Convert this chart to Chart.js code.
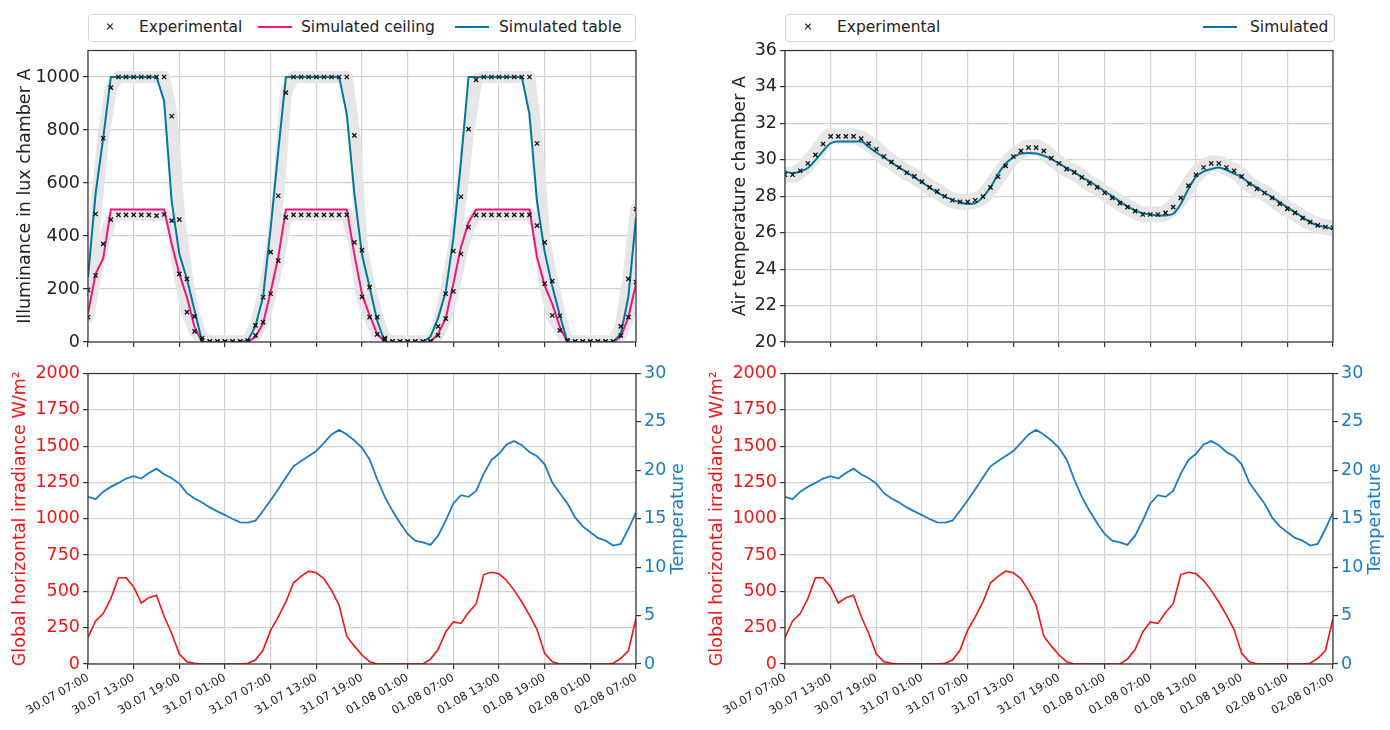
<!DOCTYPE html>
<html>
<head>
<meta charset="utf-8">
<script src="https://cdn.jsdelivr.net/npm/chart.js@4.4.1/dist/chart.umd.min.js"></script>
<style>
html, body { margin: 0; padding: 0; background: #fff; overflow: hidden; }
body { width: 1390px; height: 730px; position: relative; font-family: "DejaVu Sans", sans-serif; }
canvas { position: absolute; }
.legend { position: absolute; top: 14px; height: 28px; border: 1px solid #d6d6d6; border-radius: 4px; background: #fff; box-sizing: border-box; }
.legend span { position: absolute; }
.lbl { font-size: 15.5px; color: #222; top: 3px; line-height: 18px; white-space: nowrap; }
.ln { height: 2px; width: 34px; top: 11px; }
.mk { width: 6px; height: 6px; top: 9px; }
.mk::before, .mk::after { content: ""; position: absolute; left: -1px; top: 2.4px; width: 8px; height: 1.3px; background: #111; transform: rotate(45deg); }
.mk::after { transform: rotate(-45deg); }
</style>
</head>
<body>
<canvas id="tl" width="650" height="320" style="left:0;top:37px"></canvas>
<canvas id="tr" width="650" height="320" style="left:697px;top:37px"></canvas>
<canvas id="bl" width="700" height="370" style="left:0;top:360px"></canvas>
<canvas id="br" width="700" height="370" style="left:697px;top:360px"></canvas>

<div class="legend" style="left:88px;width:548px">
  <span class="mk" style="left:18px"></span>
  <span class="lbl" style="left:50px">Experimental</span>
  <span class="ln" style="left:169px;background:#f2137f"></span>
  <span class="lbl" style="left:212px">Simulated ceiling</span>
  <span class="ln" style="left:366px;background:#00779b"></span>
  <span class="lbl" style="left:410px">Simulated table</span>
</div>
<div class="legend" style="left:785px;width:550px">
  <span class="mk" style="left:19px"></span>
  <span class="lbl" style="left:51px">Experimental</span>
  <span class="ln" style="left:417px;background:#00779b"></span>
  <span class="lbl" style="left:464px">Simulated</span>
</div>

<script>
// hourly samples, 30.07 07:00 (hour 0) to 02.08 07:00 (hour 72)
const tickHours = [0, 6, 12, 18, 24, 30, 36, 42, 48, 54, 60, 66, 72];
const timeLabels = ["30.07 07:00", "30.07 13:00", "30.07 19:00", "31.07 01:00", "31.07 07:00",
  "31.07 13:00", "31.07 19:00", "01.08 01:00", "01.08 07:00", "01.08 13:00", "01.08 19:00",
  "02.08 01:00", "02.08 07:00"];

const luxTicks = [0, 200, 400, 600, 800, 1000];
const airTicks = [20, 22, 24, 26, 28, 30, 32, 34, 36];
const irrTicks = [0, 250, 500, 750, 1000, 1250, 1500, 1750, 2000];
const outTempTicks = [0, 5, 10, 15, 20, 25, 30];

const expTable = [197, 483, 769, 960, 1000, 1000, 1000, 1000, 1000, 1000, 1000, 852, 462, 238, 97, 15,
  2, 2, 2, 2, 2, 5, 63, 169, 339, 552, 941, 1000, 1000, 1000, 1000, 1000, 1000, 1000, 1000, 780, 347,
  207, 94, 15, 2, 2, 2, 2, 2, 3, 59, 182, 343, 548, 803, 989, 1000, 1000, 1000, 1000, 1000, 1000, 1000,
  749, 376, 230, 99, 6, 2, 2, 2, 2, 2, 2, 59, 238, 502];
const expCeiling = [94, 251, 370, 462, 480, 480, 480, 480, 480, 477, 481, 458, 257, 113, 40, 6,
  2, 2, 2, 2, 2, 3, 25, 75, 182, 307, 470, 480, 480, 480, 480, 480, 480, 480, 480, 376, 170,
  94, 29, 10, 2, 2, 2, 2, 2, 2, 25, 88, 191, 332, 433, 479, 480, 480, 480, 480, 480, 480, 480,
  439, 220, 100, 44, 3, 2, 2, 2, 2, 2, 2, 25, 94, 226];
const simTable = [245, 560, 770, 1000, 1000, 1000, 1000, 1000, 1000, 1000, 910, 530, 332, 238, 119, 0,
  0, 0, 0, 0, 0, 5, 60, 170, 430, 720, 1000, 1000, 1000, 1000, 1000, 1000, 1000, 1000, 860, 560, 330,
  207, 80, 0, 0, 0, 0, 0, 0, 20, 90, 190, 390, 680, 1000, 1000, 1000, 1000, 1000, 1000, 1000, 1000, 860,
  530, 340, 210, 100, 0, 0, 0, 0, 0, 0, 0, 30, 170, 470];
const simCeiling = [107, 257, 315, 500, 500, 500, 500, 500, 500, 500, 500, 370, 257, 169, 56, 0,
  0, 0, 0, 0, 0, 0, 20, 70, 190, 320, 500, 500, 500, 500, 500, 500, 500, 500, 500, 330, 180,
  100, 30, 0, 0, 0, 0, 0, 0, 0, 31, 88, 220, 358, 452, 500, 500, 500, 500, 500, 500, 500, 500,
  320, 213, 144, 56, 0, 0, 0, 0, 0, 0, 0, 19, 94, 220];

const expAir = [29.18, 29.18, 29.4, 29.8, 30.27, 30.87, 31.29, 31.29, 31.29, 31.29, 31.16, 30.89, 30.58,
  30.18, 29.89, 29.58, 29.29, 29.09, 28.8, 28.49, 28.27, 28.0, 27.78, 27.69, 27.69, 27.78, 27.98, 28.49,
  29.07, 29.67, 30.18, 30.49, 30.67, 30.67, 30.49, 30.09, 29.8, 29.49, 29.31, 29.04, 28.71, 28.49, 28.18,
  27.91, 27.62, 27.4, 27.18, 27.0, 27.0, 27.0, 27.09, 27.4, 27.91, 28.58, 29.18, 29.58, 29.8, 29.8, 29.58,
  29.4, 29.09, 28.67, 28.4, 28.18, 27.91, 27.58, 27.31, 27.09, 26.8, 26.58, 26.4, 26.31, 26.27];
const simAir = [29.36, 29.27, 29.36, 29.55, 29.98, 30.49, 30.91, 31.0, 31.0, 31.0, 31.0, 30.71, 30.4,
  30.13, 29.85, 29.58, 29.31, 29.04, 28.76, 28.49, 28.2, 27.98, 27.8, 27.67, 27.58, 27.62, 27.95, 28.49,
  29.22, 29.8, 30.13, 30.35, 30.38, 30.35, 30.22, 30.04, 29.8, 29.55, 29.33, 29.04, 28.82, 28.55, 28.27,
  28.0, 27.71, 27.44, 27.22, 27.07, 27.0, 26.95, 26.95, 27.04, 27.58, 28.4, 29.07, 29.36, 29.49, 29.58,
  29.44, 29.25, 29.04, 28.73, 28.49, 28.2, 27.95, 27.67, 27.4, 27.13, 26.85, 26.58, 26.4, 26.31, 26.2];

const irradiance = [183, 297, 347, 450, 594, 594, 530, 420, 457, 473, 329, 210, 68, 16, 5, 0,
  0, 0, 0, 0, 0, 5, 27, 96, 233, 324, 427, 559, 603, 639, 628, 587, 507, 404, 192, 123, 62,
  16, 0, 0, 0, 0, 0, 0, 0, 34, 100, 221, 290, 279, 354, 415, 616, 632, 621, 575, 507, 427, 336,
  237, 73, 16, 0, 0, 0, 0, 0, 0, 0, 5, 39, 91, 313];
const outdoorTemp = [17.26, 17.02, 17.8, 18.29, 18.7, 19.15, 19.39, 19.15, 19.73, 20.17, 19.59, 19.18,
  18.63, 17.64, 17.09, 16.68, 16.17, 15.76, 15.38, 14.97, 14.62, 14.59, 14.8, 15.82, 16.92, 18.05, 19.25,
  20.41, 20.96, 21.47, 21.99, 22.84, 23.7, 24.18, 23.7, 23.08, 22.33, 21.13, 19.08, 17.26, 15.82, 14.56,
  13.43, 12.74, 12.57, 12.3, 13.25, 14.8, 16.58, 17.43, 17.26, 17.88, 19.66, 21.06, 21.71, 22.67, 23.02,
  22.6, 21.89, 21.47, 20.62, 18.73, 17.64, 16.58, 15.14, 14.21, 13.6, 13.02, 12.74, 12.23, 12.4, 13.94, 15.65];

const GRID = "#d2d2d2";
const SPINE = "#333";
const TEAL = "#00779b";
const PINK = "#f2137f";
const RED = "#f01414";
const BLUE = "#1a7cc4";
const BAND = "#e6e6e6";

Chart.defaults.font.family = "'DejaVu Sans', sans-serif";
Chart.defaults.color = "#222";

const framePlugin = {
  id: "frame",
  afterDatasetsDraw(chart) {
    const { ctx, chartArea: a } = chart;
    ctx.save();
    ctx.strokeStyle = SPINE;
    ctx.lineWidth = 1.2;
    ctx.strokeRect(a.left, a.top, a.right - a.left, a.bottom - a.top);
    ctx.restore();
  }
};

// matplotlib-style right axis title, reading bottom to top
const sideTitlePlugin = {
  id: "sideTitle",
  afterDraw(chart, args, opts) {
    if (!opts || !opts.text) return;
    const scale = chart.scales[opts.scale];
    const { ctx } = chart;
    ctx.save();
    ctx.translate(scale.right - opts.offset, (scale.top + scale.bottom) / 2);
    ctx.rotate(-Math.PI / 2);
    ctx.font = `${opts.size}px 'DejaVu Sans'`;
    ctx.fillStyle = opts.color;
    ctx.textAlign = "center";
    ctx.textBaseline = "middle";
    ctx.fillText(opts.text, 0, 0);
    ctx.restore();
  }
};
Chart.register(framePlugin, sideTitlePlugin);

function pts(vals) {
  return vals.map((v, i) => ({ x: i, y: v }));
}

function marks(vals, axis) {
  return {
    data: pts(vals), yAxisID: axis || "y", showLine: false, pointStyle: "crossRot",
    pointRadius: 3, pointBorderWidth: 1.3, pointBorderColor: "#111", pointBackgroundColor: "#111", clip: 0
  };
}

function curve(vals, color, width, extra) {
  return Object.assign({
    data: pts(vals), yAxisID: "y", borderColor: color, borderWidth: width,
    pointRadius: 0, fill: false, clip: 0
  }, extra || {});
}

function band(vals, width, extra) {
  return curve(vals, BAND, width, Object.assign({ borderJoinStyle: "round", borderCapStyle: "round" }, extra || {}));
}

function xAxis(showLabels) {
  return {
    type: "linear", min: 0, max: 72,
    afterBuildTicks: (s) => { s.ticks = tickHours.map((v) => ({ value: v })); },
    afterFit: (s) => { s.height = showLabels ? 66 : 15; },
    border: { display: false },
    grid: { color: GRID, lineWidth: 1.2, tickLength: 5, tickColor: SPINE, tickWidth: 1.2 },
    ticks: {
      display: showLabels, autoSkip: false, minRotation: 30, maxRotation: 30, padding: 2,
      font: { size: 11.5 }, color: "#222",
      callback: (v) => timeLabels[tickHours.indexOf(v)]
    }
  };
}

function yAxis(cfg) {
  return {
    type: "linear", position: cfg.position || "left", min: cfg.min, max: cfg.max,
    afterBuildTicks: (s) => { s.ticks = cfg.ticks.map((v) => ({ value: v })); },
    afterFit: (s) => { s.width = cfg.width; },
    border: { display: false },
    grid: {
      color: GRID, lineWidth: 1.2, drawOnChartArea: cfg.grid !== false,
      tickLength: 5, tickColor: SPINE, tickWidth: 1.2
    },
    ticks: { font: { size: 17.5 }, color: cfg.color || "#222", padding: 3, callback: (v) => String(v) },
    title: {
      display: !!cfg.title, text: cfg.title, color: cfg.color || "#222",
      font: { size: 17.5 }, padding: { top: cfg.titlePad || 0, bottom: 0 }
    }
  };
}

function baseOptions(scales, rightPad, plugins) {
  return {
    responsive: false, animation: false, devicePixelRatio: 1, events: [],
    layout: { padding: { top: 12, right: rightPad, bottom: 0, left: 0 } },
    plugins: Object.assign({ legend: { display: false }, tooltip: { enabled: false } }, plugins || {}),
    scales
  };
}

new Chart(document.getElementById("tl"), {
  type: "line",
  data: {
    datasets: [
      marks(expCeiling),
      marks(expTable),
      curve(simTable, TEAL, 2),
      curve(simCeiling, PINK, 2),
      band(expCeiling, 12),
      band(expTable, 12)
    ]
  },
  options: baseOptions({
    x: xAxis(false),
    y: yAxis({ min: 0, max: 1100, ticks: luxTicks, width: 88, title: "Illuminance in lux chamber A", titlePad: 15 })
  }, 14)
});

new Chart(document.getElementById("tr"), {
  type: "line",
  data: {
    datasets: [
      marks(expAir),
      curve(simAir, TEAL, 2, { cubicInterpolationMode: "monotone" }),
      band(expAir, 16, { cubicInterpolationMode: "monotone" })
    ]
  },
  options: baseOptions({
    x: xAxis(false),
    y: yAxis({ min: 20, max: 36, ticks: airTicks, width: 88, title: "Air temperature chamber A", titlePad: 33 })
  }, 14)
});

function weatherChart(id) {
  new Chart(document.getElementById(id), {
    type: "line",
    data: {
      datasets: [
        curve(irradiance, RED, 1.6),
        curve(outdoorTemp, BLUE, 1.8, { yAxisID: "y1" })
      ]
    },
    options: baseOptions({
      x: xAxis(true),
      y: yAxis({ min: 0, max: 2000, ticks: irrTicks, width: 88, color: RED,
        title: "Global horizontal irradiance W/m\u00b2", titlePad: 10 }),
      y1: yAxis({ min: 0, max: 30, ticks: outTempTicks, width: 64, color: BLUE, position: "right", grid: false })
    }, 0, {
      sideTitle: { text: "Temperature", scale: "y1", offset: 22, size: 17.5, color: BLUE }
    })
  });
}
weatherChart("bl");
weatherChart("br");
</script>
</body>
</html>
